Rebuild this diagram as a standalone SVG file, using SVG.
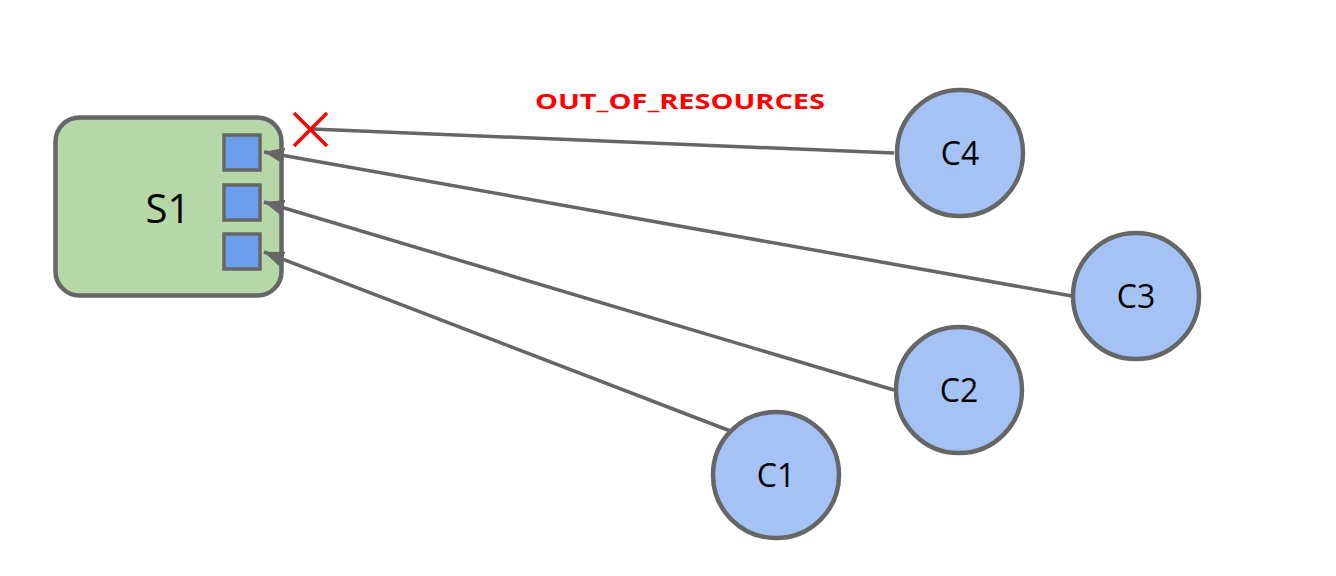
<svg xmlns="http://www.w3.org/2000/svg" width="1336" height="576" viewBox="0 0 1336 576">
<defs>
<style>
.edge{stroke:#666666;stroke-width:3.5;fill:none}
.client circle{fill:#a4c2f4;stroke:#666666;stroke-width:4.5}
.lbl{font-family:"Open Sans","Liberation Sans",sans-serif;fill:#000;text-anchor:middle}
.port{fill:#6d9eeb;stroke:#666666;stroke-width:3.5}
</style>
<marker id="arr" markerUnits="userSpaceOnUse" markerWidth="22" markerHeight="18" viewBox="0 0 22 18" refX="20" refY="9" orient="auto">
<path d="M0,1 L20,9 L0,17 Z" fill="#666666"/>
</marker>
</defs>
<rect width="1336" height="576" fill="#ffffff"/>
<g id="S1">
<rect x="55.5" y="117.5" width="226" height="178" rx="24" fill="#b6d7a8" stroke="#666666" stroke-width="4.5"/>
<text class="lbl" x="168" y="223" font-size="40">S1</text>
<rect class="port" x="224" y="135" width="36" height="35"/>
<rect class="port" x="224" y="185" width="36" height="35"/>
<rect class="port" x="224" y="234" width="36" height="35"/>
</g>
<g id="connectors">
<line class="edge" x1="894" y1="153" x2="312" y2="129"/>
<line class="edge" x1="1072" y1="296" x2="264" y2="152" marker-end="url(#arr)"/>
<line class="edge" x1="894" y1="390" x2="264" y2="202" marker-end="url(#arr)"/>
<line class="edge" x1="733" y1="432" x2="264" y2="252" marker-end="url(#arr)"/>
</g>
<g id="X">
<path d="M294,113 L327,146 M327,113 L294,146" stroke="#ff0000" stroke-width="3.5" fill="none"/>
</g>
<g id="label">
<text x="535" y="109" font-family="'Open Sans','Liberation Sans',sans-serif" font-weight="bold" font-size="21" fill="#ff0000" textLength="290" lengthAdjust="spacingAndGlyphs">OUT_OF_RESOURCES</text>
</g>
<g id="C4" class="client"><circle cx="960" cy="153" r="63"/><text class="lbl" x="960" y="165" font-size="32">C4</text></g>
<g id="C3" class="client"><circle cx="1136" cy="296" r="63"/><text class="lbl" x="1136" y="308" font-size="32">C3</text></g>
<g id="C2" class="client"><circle cx="959" cy="390" r="63"/><text class="lbl" x="959" y="402" font-size="32">C2</text></g>
<g id="C1" class="client"><circle cx="776" cy="475" r="63"/><text class="lbl" x="776" y="487" font-size="32">C1</text></g>
</svg>
